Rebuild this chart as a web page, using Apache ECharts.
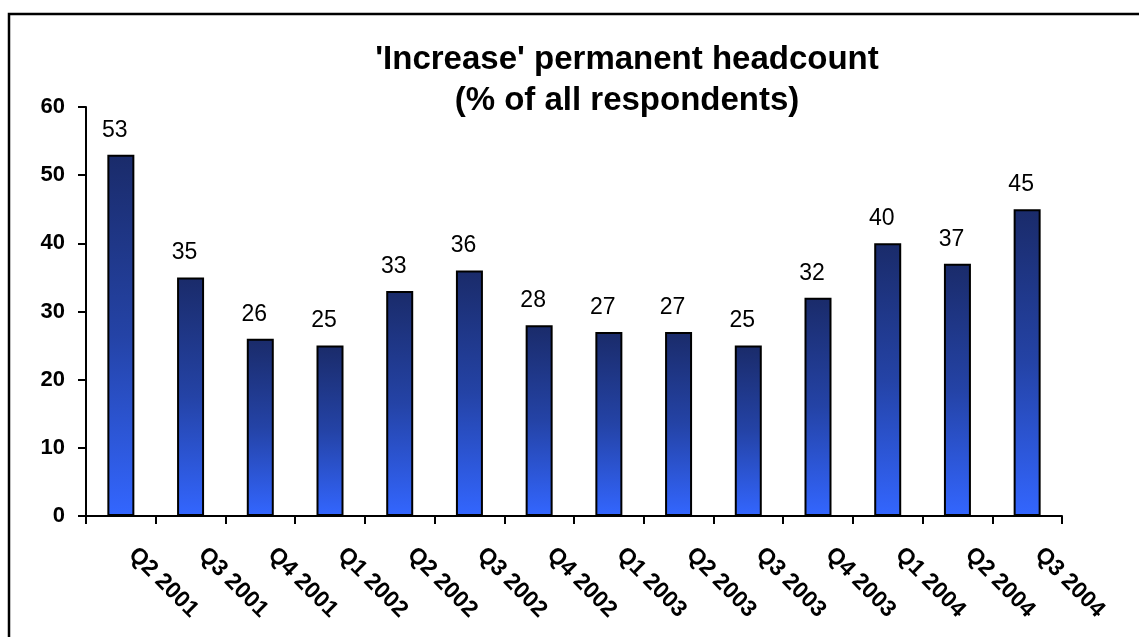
<!DOCTYPE html>
<html>
<head>
<meta charset="utf-8">
<script src="https://cdn.jsdelivr.net/npm/echarts@6/dist/echarts.min.js"></script>
<style>
html,body{margin:0;padding:0;background:#fff;}
#chart{width:1139px;height:637px;}
</style>
</head>
<body>
<div id="chart"></div>
<script>
var categories = ['Q2 2001','Q3 2001','Q4 2001','Q1 2002','Q2 2002','Q3 2002','Q4 2002','Q1 2003','Q2 2003','Q3 2003','Q4 2003','Q1 2004','Q2 2004','Q3 2004'];
var values = [53,35,26,25,33,36,28,27,27,25,32,40,37,45];
var titleText = "'Increase' permanent headcount\n(% of all respondents)";

var FONT = '"Liberation Sans", Arial, Helvetica, sans-serif';
var chart = echarts.init(document.getElementById('chart'));
chart.setOption({
  backgroundColor: '#ffffff',
  animation: false,
  title: {
    text: titleText,
    left: 627,
    top: 39,
    textAlign: 'center',
    padding: 0,
    textStyle: {fontFamily: FONT, fontSize: 33, fontWeight: 'bold', color: '#000', lineHeight: 41}
  },
  graphic: [{
    type: 'rect',
    shape: {x: 9, y: 14, width: 1300, height: 800},
    style: {fill: 'none', stroke: '#000', lineWidth: 2.5},
    silent: true
  }],
  grid: {left: 86, right: 77, top: 107, bottom: 121},
  xAxis: {
    type: 'category',
    data: categories,
    axisLine: {lineStyle: {color: '#000', width: 2}},
    axisTick: {show: true, length: 8, lineStyle: {color: '#000', width: 2}},
    axisLabel: {
      rotate: -45,
      interval: 0,
      margin: 24,
      padding: [0, 0, 0, 16],
      fontFamily: FONT, fontSize: 23, fontWeight: 'bold', color: '#000'
    }
  },
  yAxis: {
    type: 'value',
    min: 0, max: 60, interval: 10,
    splitLine: {show: false},
    axisLine: {show: true, lineStyle: {color: '#000', width: 2}},
    axisTick: {show: true, length: 8, lineStyle: {color: '#000', width: 2}},
    axisLabel: {margin: 21, fontFamily: FONT, fontSize: 22, fontWeight: 'bold', color: '#000'}
  },
  series: [{
    type: 'bar',
    data: values,
    barWidth: 27,
    itemStyle: {
      borderColor: '#000',
      borderWidth: 2,
      color: new echarts.graphic.LinearGradient(0, 0, 0, 1, [
        {offset: 0, color: '#1a2b6a'},
        {offset: 0.5, color: '#2443a6'},
        {offset: 1, color: '#3366ff'}
      ])
    },
    label: {
      show: true,
      position: 'top',
      distance: 13,
      offset: [-6, 0],
      fontFamily: FONT, fontSize: 23, color: '#000'
    }
  }]
});
</script>
</body>
</html>
